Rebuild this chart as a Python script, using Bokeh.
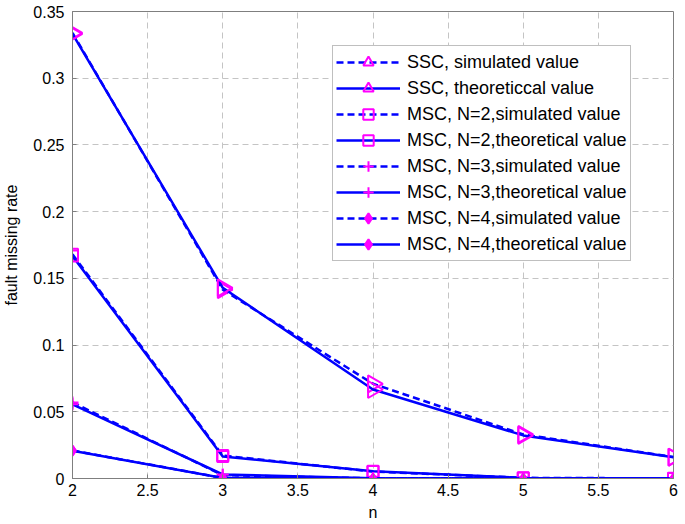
import math
from bokeh.plotting import figure
from bokeh.models import Legend, LegendItem, FixedTicker, Range1d
from bokeh.embed import file_html
from bokeh.resources import INLINE

# ---- data ----
n = [2, 3, 4, 5, 6]
ssc_sim = [0.3340, 0.1415, 0.0710, 0.0330, 0.0161]
ssc_theo = [0.3333, 0.1429, 0.0667, 0.0323, 0.0159]
msc2_sim = [0.1680, 0.0172, 0.0052, 0.0005, 0.0001]
msc2_theo = [0.1667, 0.0165, 0.0055, 0.0004, 0.0000]
msc3_sim = [0.0570, 0.0025, 0.0001, 0.0000, 0.0000]
msc3_theo = [0.0556, 0.0030, 0.0002, 0.0000, 0.0000]
msc4_sim = [0.0210, 0.0004, 0.0000, 0.0000, 0.0000]
msc4_theo = [0.0208, 0.0004, 0.0000, 0.0000, 0.0000]

labels = [
    "SSC, simulated value",
    "SSC, theoreticcal value",
    "MSC, N=2,simulated value",
    "MSC, N=2,theoretical value",
    "MSC, N=3,simulated value",
    "MSC, N=3,theoretical value",
    "MSC, N=4,simulated value",
    "MSC, N=4,theoretical value",
]

x_ticks = [2, 2.5, 3, 3.5, 4, 4.5, 5, 5.5, 6]
x_tick_labels = ["2", "2.5", "3", "3.5", "4", "4.5", "5", "5.5", "6"]
y_ticks = [0, 0.05, 0.1, 0.15, 0.2, 0.25, 0.3, 0.35]
y_tick_labels = ["0", "0.05", "0.1", "0.15", "0.2", "0.25", "0.3", "0.35"]

BLUE = "#0000ff"
MAG = "#ff00ff"
FONT = "Liberation Sans"

p = figure(width=685, height=524, output_backend="svg", toolbar_location=None,
           x_range=Range1d(2, 6), y_range=Range1d(0, 0.35),
           min_border_left=71, min_border_right=12, min_border_top=11,
           min_border_bottom=46)
p.background_fill_color = "white"
p.border_fill_color = "white"
p.outline_line_color = "#7f7f7f"
p.outline_line_width = 1

for ax in (p.xaxis[0], p.yaxis[0]):
    ax.axis_line_color = "#7f7f7f"
    ax.major_tick_line_color = "#7f7f7f"
    ax.major_tick_in = 4
    ax.major_tick_out = 0
    ax.minor_tick_line_color = None
    ax.major_label_text_font = FONT
    ax.major_label_text_font_size = "16px"
    ax.major_label_text_color = "black"
    ax.axis_label_text_font = FONT
    ax.axis_label_text_font_size = "16px"
    ax.axis_label_text_font_style = "normal"
    ax.axis_label_text_color = "black"

p.xaxis.ticker = FixedTicker(ticks=x_ticks)
p.yaxis.ticker = FixedTicker(ticks=y_ticks)
p.xaxis.major_label_overrides = {t: l for t, l in zip(x_ticks, x_tick_labels)}
p.yaxis.major_label_overrides = {t: l for t, l in zip(y_ticks, y_tick_labels)}
p.xaxis.major_label_standoff = 5
p.yaxis.major_label_standoff = 8
p.xaxis.axis_label = "n"
p.yaxis.axis_label = "fault missing rate"
p.xaxis.axis_label_standoff = 5
p.yaxis.axis_label_standoff = 10

for g in (p.xgrid[0], p.ygrid[0]):
    g.grid_line_color = "#c4c4c4"
    g.grid_line_dash = "6 4"
    g.grid_line_width = 1

series = [ssc_sim, ssc_theo, msc2_sim, msc2_theo, msc3_sim, msc3_theo, msc4_sim, msc4_theo]
marker_kind = ["triangle", "triangle", "square", "square", "cross", "cross", "diamond", "diamond"]

items = []
for i, (ys, lab) in enumerate(zip(series, labels)):
    dash = "7 4" if i % 2 == 0 else "solid"
    lr = p.line(n, ys, line_color=BLUE, line_width=2.5, line_dash=dash)
    kind = marker_kind[i]
    kw = dict(marker=kind, line_color=MAG, line_width=2)
    if kind == "triangle":
        kw.update(size=17, fill_color=None, angle=-math.pi / 2)
    elif kind == "square":
        kw.update(size=11, fill_color=None)
    elif kind == "cross":
        kw.update(size=12)
    else:
        kw.update(size=10, fill_color=MAG)
    sr = p.scatter(n, ys, **kw)
    items.append(LegendItem(label=lab, renderers=[lr, sr]))

legend = Legend(items=items, location=(260, 217))
legend.label_text_font = FONT
legend.label_text_font_size = "18px"
legend.label_text_color = "black"
legend.glyph_width = 64
legend.glyph_height = 26
legend.label_height = 20
legend.spacing = 0
legend.padding = 3
legend.margin = 0
legend.label_standoff = 7
legend.border_line_color = "#7f7f7f"
legend.border_line_width = 1
legend.background_fill_color = "white"
legend.background_fill_alpha = 1
p.add_layout(legend, "center")

open("out.html", "w").write(file_html(p, INLINE))
